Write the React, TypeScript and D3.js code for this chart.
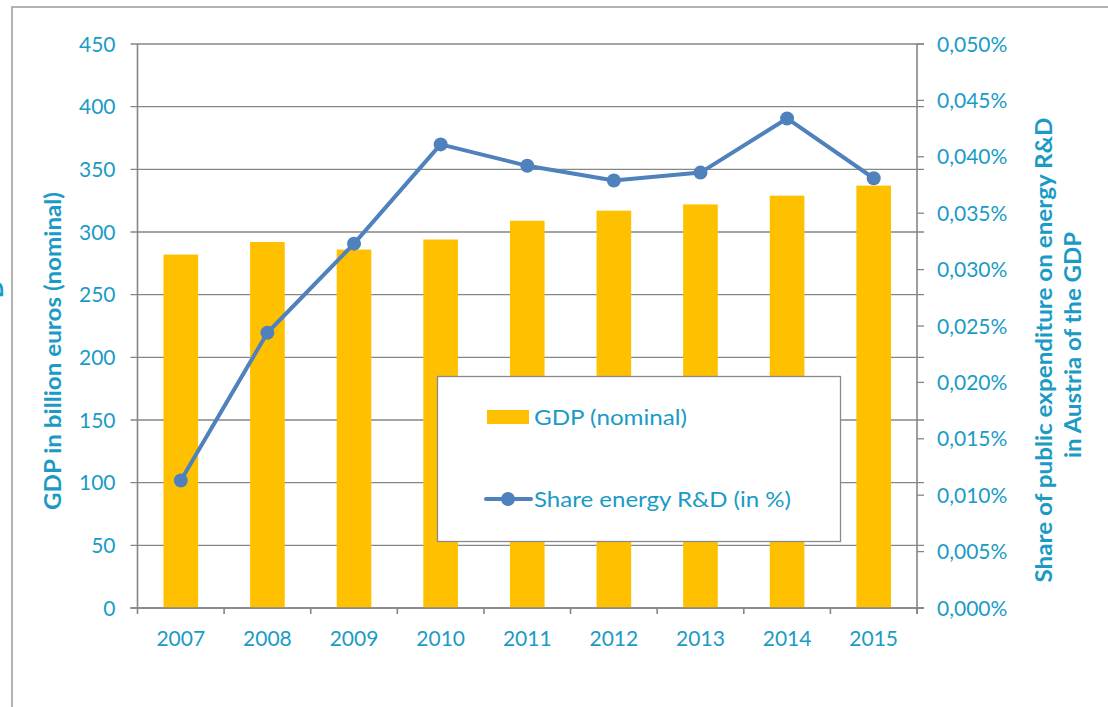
import React from "react";
import { scaleBand, scaleLinear, line } from "d3";

const YEARS = ["2007", "2008", "2009", "2010", "2011", "2012", "2013", "2014", "2015"];
// GDP in billion euros (nominal)
const GDP = [282, 292, 286, 294, 309, 317, 322, 329, 337];
// share of public energy R&D spending in GDP, in %
const SHARE = [0.0113, 0.0244, 0.0323, 0.0411, 0.0392, 0.0379, 0.0386, 0.0434, 0.0381];
const LEFT_TICKS = [0, 50, 100, 150, 200, 250, 300, 350, 400, 450];
const RIGHT_TICKS = [0, 0.005, 0.01, 0.015, 0.02, 0.025, 0.03, 0.035, 0.04, 0.045, 0.05];

const W = 1108;
const H = 707;
const margin = { top: 44, right: 191, bottom: 99, left: 137.5 };
const TEXT = "#1A9BC6";
const GRID = "#868686";
const BAR = "#FFC000";
const LINE = "#4F81BD";
const FONT = "Lato, 'Open Sans', sans-serif";

const App = () => {
  const x0 = margin.left;
  const x1 = W - margin.right;
  const y0 = H - margin.bottom;
  const y1 = margin.top;

  const x = scaleBand().domain(YEARS).range([x0, x1]);
  const yLeft = scaleLinear().domain([0, 450]).range([y0, y1]);
  const yRight = scaleLinear().domain([0, 0.05]).range([y0, y1]);
  const barW = x.bandwidth() * 0.4;
  const cx = (d) => x(d) + x.bandwidth() / 2;

  const path = line()
    .x((d, i) => cx(YEARS[i]))
    .y((d) => yRight(d))(SHARE);

  const fmtPct = (v) => v.toFixed(3).replace(".", ",") + "%";

  return (
    <svg
      width={W}
      height={H}
      style={{ position: "absolute", left: 0, top: 0, fontFamily: FONT }}
    >
      <rect x={0} y={0} width={W} height={H} fill="#fff" />
      {/* outer chart border, partly off page */}
      <rect x={12} y={7} width={W + 20} height={H + 20} fill="none" stroke="#9a9a9a" strokeWidth={1.5} />
      {/* clipped remnant of neighbouring label */}
      <text
        transform="translate(3,289) rotate(-90)"
        textAnchor="middle"
        fontWeight="bold"
        fontSize={24}
        fill={TEXT}
      >
        D
      </text>

      {/* gridlines */}
      {LEFT_TICKS.map((t) => (
        <line key={t} x1={x0 - 7} x2={x1 + 7} y1={yLeft(t)} y2={yLeft(t)} stroke={GRID} strokeWidth={1.3} />
      ))}

      {/* bars */}
      {GDP.map((v, i) => (
        <rect
          key={YEARS[i]}
          x={cx(YEARS[i]) - barW / 2}
          y={yLeft(v)}
          width={barW}
          height={y0 - yLeft(v)}
          fill={BAR}
        />
      ))}

      {/* axes */}
      <line x1={x0} x2={x0} y1={y1} y2={y0 + 6} stroke={GRID} strokeWidth={1.6} />
      <line x1={x1} x2={x1} y1={y1} y2={y0 + 6} stroke={GRID} strokeWidth={1.6} />
      <line x1={x0 - 7} x2={x1 + 7} y1={y0} y2={y0} stroke={GRID} strokeWidth={1.6} />
      {YEARS.map((d) => (
        <line key={"t" + d} x1={x(d) + x.bandwidth()} x2={x(d) + x.bandwidth()} y1={y0} y2={y0 + 6} stroke={GRID} strokeWidth={1.6} />
      ))}
      {RIGHT_TICKS.map((t) => (
        <line key={"r" + t} x1={x1} x2={x1 + 7} y1={yRight(t)} y2={yRight(t)} stroke={GRID} strokeWidth={1.3} />
      ))}

      {/* tick labels */}
      {LEFT_TICKS.map((t) => (
        <text key={"l" + t} x={x0 - 22} y={yLeft(t) + 7.5} textAnchor="end" fontSize={21} fill={TEXT}>
          {t}
        </text>
      ))}
      {RIGHT_TICKS.map((t) => (
        <text key={"rl" + t} x={x1 + 20} y={yRight(t) + 7.5} textAnchor="start" fontSize={21} fill={TEXT}>
          {fmtPct(t)}
        </text>
      ))}
      {YEARS.map((d) => (
        <text key={"x" + d} x={cx(d)} y={y0 + 38} textAnchor="middle" fontSize={21} fill={TEXT}>
          {d}
        </text>
      ))}

      {/* axis titles */}
      <text
        transform="translate(61,351) rotate(-90)"
        textAnchor="middle"
        fontWeight="bold"
        fontSize={23}
        fill={TEXT}
        textLength={318}
        lengthAdjust="spacingAndGlyphs"
      >
        GDP in billion euros (nominal)
      </text>
      <text
        transform="translate(1052,350) rotate(-90)"
        textAnchor="middle"
        fontWeight="bold"
        fontSize={23}
        fill={TEXT}
        textLength={465}
        lengthAdjust="spacingAndGlyphs"
      >
        Share of public expenditure on energy R&amp;D
      </text>
      <text
        transform="translate(1081,345) rotate(-90)"
        textAnchor="middle"
        fontWeight="bold"
        fontSize={23}
        fill={TEXT}
        textLength={226}
        lengthAdjust="spacingAndGlyphs"
      >
        in Austria of the GDP
      </text>

      {/* line series */}
      <path d={path} fill="none" stroke={LINE} strokeWidth={4} strokeLinejoin="round" />
      {SHARE.map((v, i) => (
        <circle key={"c" + i} cx={cx(YEARS[i])} cy={yRight(v)} r={7} fill={LINE} />
      ))}

      {/* legend */}
      <rect x={437.5} y={376.5} width={403} height={165} fill="#fff" stroke="#8a8a8a" strokeWidth={1.3} />
      <rect x={487} y={410} width={42} height={14} fill={BAR} />
      <text x={534} y={425} fontSize={22} fill={TEXT} textLength={153} lengthAdjust="spacingAndGlyphs">
        GDP (nominal)
      </text>
      <line x1={486} x2={531} y1={499} y2={499} stroke={LINE} strokeWidth={4} strokeLinecap="round" />
      <circle cx={508} cy={499} r={7} fill={LINE} />
      <text x={534} y={507} fontSize={22} fill={TEXT} textLength={257} lengthAdjust="spacingAndGlyphs">
        Share energy R&amp;D (in %)
      </text>
    </svg>
  );
};

export default App;
